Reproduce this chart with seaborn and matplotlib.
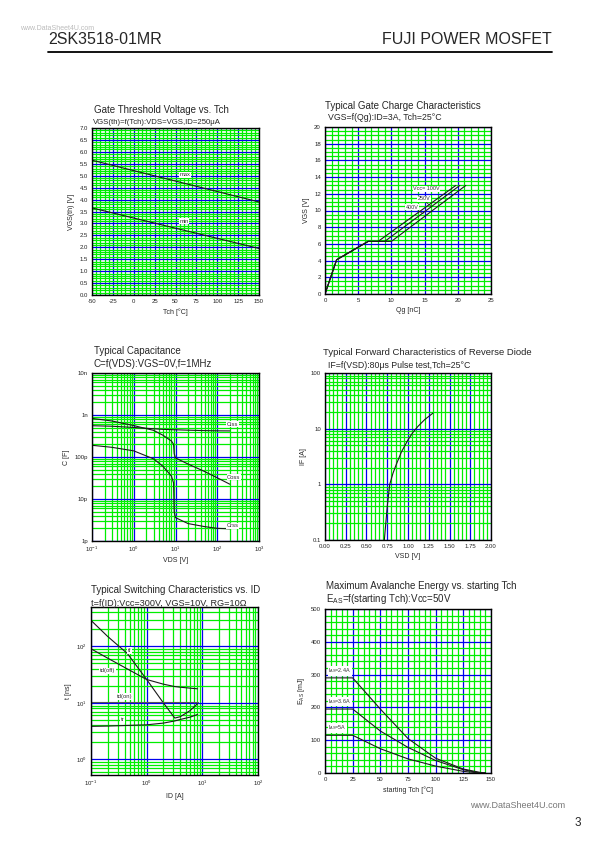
import numpy as np
import pandas as pd
import seaborn as sns
import matplotlib
matplotlib.use("Agg")
import matplotlib.pyplot as plt
from matplotlib.lines import Line2D
from matplotlib.ticker import MultipleLocator, LogLocator, FixedLocator, NullFormatter

# ---- data ----

# gate threshold voltage vs Tch
vth_tch = [-50, 150]
vth_max = [5.65, 3.9]
vth_min = [3.65, 1.95]

# gate charge (Vcc = 100V, 250V, 400V)
qg_100 = [0, 1.75, 6.5, 8.0, 19.7]
qg_250 = [0, 1.75, 6.5, 9.0, 20.3]
qg_400 = [0, 1.75, 6.5, 10.0, 21.2]
vgs_qg = [0, 4.1, 6.3, 6.3, 13.0]

# capacitance vs VDS (pF)
cap_vds = [0.1, 0.3, 1, 3, 5, 8, 9.0, 9.3, 10, 20, 50, 100, 200]
ciss = [555, 540, 505, 470, 455, 448, 446, 445, 445, 435, 425, 420, 418]
coss = [830, 720, 560, 430, 330, 240, 200, 120, 95, 68, 45, 32, 22.5]
crss = [190, 170, 140, 90, 60, 35, 24, 5.0, 3.6, 2.6, 2.2, 2.0, 1.95]

# reverse diode forward characteristic
vsd = [0.715, 0.75, 0.78, 0.82, 0.86, 0.92, 1.0, 1.06, 1.12, 1.2, 1.3]
i_f = [0.1, 0.4, 1.0, 1.6, 2.3, 3.8, 6.3, 8.6, 11.0, 14.5, 19.0]

# switching times vs ID (ns)
id_sw = [0.1, 0.2, 0.45, 1.0, 2.0, 3.2, 4.0, 6.0, 8.2]
t_f = [290, 150, 75, 26, 10, 5.4, 5.7, 7.3, 9.7]
td_off = [91, 62, 40, 26, 21.5, 19.5, 19, 18.3, 17.8]
td_on = [10.6, 10.6, 10.6, 10.6, 10.6, 10.6, 10.6, 10.6, 10.6]
t_r = [3.85, 3.9, 4.0, 4.1, 4.4, 4.8, 5.1, 5.6, 6.25]

# avalanche energy vs starting Tch (mJ)
eas_tch = [0, 25, 50, 75, 100, 125, 140, 145]
eas_24 = [290, 290, 195, 105, 45, 12, 2, 0]
eas_36 = [195, 195, 128, 78, 38, 10, 0, 0]
eas_5 = [115, 115, 74, 43, 21, 5, 0, 0]

# ---- style ----
sns.set_style("white")
plt.rcParams["font.family"] = ["Liberation Sans", "DejaVu Sans"]
plt.rcParams["mathtext.fontset"] = "custom"
plt.rcParams["mathtext.rm"] = "Liberation Sans"
plt.rcParams["mathtext.it"] = "Liberation Sans"
plt.rcParams["axes.unicode_minus"] = False

W, H = 595, 842
fig = plt.figure(figsize=(W / 100, H / 100), dpi=100)
fig.patch.set_facecolor("white")

GREEN = "#00ee00"
BLUE = "#0000ee"
LINE = "#1a1a1a"
TICK_FS = 4.3
LAB_FS = 5


def make_ax(left, right, top, bottom):
    ax = fig.add_axes([left / W, 1 - bottom / H, (right - left) / W, (bottom - top) / H])
    return ax


def style_ax(ax):
    ax.grid(which="minor", color=GREEN, lw=0.9)
    ax.grid(which="major", color=BLUE, lw=0.9)
    ax.set_axisbelow(True)
    for s in ax.spines.values():
        s.set_color("black")
        s.set_linewidth(1.0)
        s.set_zorder(5)
    ax.tick_params(which="both", length=0, labelsize=TICK_FS, pad=3, colors="#222")


def draw(ax, x, y, color=LINE):
    d = pd.DataFrame({"x": x, "y": y})
    sns.lineplot(data=d, x="x", y="y", ax=ax, sort=False, color=color, lw=0.8, legend=False)
    ax.set_xlabel("")
    ax.set_ylabel("")


def tag(ax, x, y, s, ha="center", fs=4.2):
    ax.text(x, y, s, fontsize=fs, ha=ha, va="center", color="#333", zorder=6,
            bbox=dict(facecolor="white", edgecolor="none", pad=0.4))


def ftext(x, y, s, fs=7, ha="left", **kw):
    fig.text(x / W, 1 - y / H, s, fontsize=fs, ha=ha, va="center", **kw)


def log_minor(ax, axis="both"):
    if axis in ("x", "both"):
        ax.xaxis.set_major_locator(LogLocator(base=10, numticks=20))
        ax.xaxis.set_minor_locator(LogLocator(base=10, subs=np.arange(2, 10), numticks=20))
        ax.xaxis.set_minor_formatter(NullFormatter())
    if axis in ("y", "both"):
        ax.yaxis.set_major_locator(LogLocator(base=10, numticks=20))
        ax.yaxis.set_minor_locator(LogLocator(base=10, subs=np.arange(2, 10), numticks=20))
        ax.yaxis.set_minor_formatter(NullFormatter())


def pow10(v, p):
    return f"$10^{{{int(round(np.log10(v)))}}}$"


# ---- header ----
ftext(20, 28, "www.DataSheet4U.com", fs=5, color="#bbbbbb")
ftext(48, 40, "2SK3518-01MR", fs=11.5)
ftext(552, 40, "FUJI POWER MOSFET", fs=11.5, ha="right")
fig.add_artist(Line2D([48 / W, 552 / W], [1 - 52 / H, 1 - 52 / H], color="black", lw=1.3))

# ---- 1: gate threshold voltage ----
ax1 = make_ax(92, 259, 128, 295)
draw(ax1, vth_tch, vth_max)
draw(ax1, vth_tch, vth_min)
ax1.set_xlim(-50, 150)
ax1.set_ylim(0, 7)
ax1.xaxis.set_major_locator(MultipleLocator(25))
ax1.xaxis.set_minor_locator(MultipleLocator(5))
ax1.yaxis.set_major_locator(MultipleLocator(0.5))
ax1.yaxis.set_minor_locator(MultipleLocator(0.1))
ax1.yaxis.set_major_formatter(lambda v, p: f"{v:.1f}")
style_ax(ax1)
ax1.set_xlabel("Tch [°C]", fontsize=LAB_FS, labelpad=3)
ax1.set_ylabel("VGS(th) [V]", fontsize=LAB_FS, labelpad=3)
tag(ax1, 61, 5.03, "max")
tag(ax1, 60, 3.1, "min")
ftext(94, 110, "Gate Threshold Voltage vs. Tch", fs=7)
ftext(93, 122, "VGS(th)=f(Tch):VDS=VGS,ID=250μA", fs=5.6)

# ---- 2: gate charge ----
ax2 = make_ax(325, 491, 127, 294)
draw(ax2, qg_100, vgs_qg)
draw(ax2, qg_250, vgs_qg)
draw(ax2, qg_400, vgs_qg)
ax2.set_xlim(0, 25)
ax2.set_ylim(0, 20)
ax2.xaxis.set_major_locator(MultipleLocator(5))
ax2.xaxis.set_minor_locator(MultipleLocator(1))
ax2.yaxis.set_major_locator(MultipleLocator(2))
ax2.yaxis.set_minor_locator(MultipleLocator(0.5))
style_ax(ax2)
ax2.set_xlabel("Qg [nC]", fontsize=LAB_FS, labelpad=3)
ax2.set_ylabel("VGS [V]", fontsize=LAB_FS, labelpad=3)
tag(ax2, 13.3, 12.6, "Vcc= 100V", ha="left", fs=3.9)
tag(ax2, 13.9, 11.4, "250V", ha="left", fs=3.9)
tag(ax2, 12.2, 10.4, "400V", ha="left", fs=3.9)
ax2.plot([15.2, 16.0], [11.0, 10.5], color=LINE, lw=0.5)
ax2.plot([14.0, 14.8], [10.0, 9.6], color=LINE, lw=0.5)
ftext(325, 106, "Typical Gate Charge Characteristics", fs=7)
ftext(328, 118, "VGS=f(Qg):ID=3A, Tch=25°C", fs=6.3)

# ---- 3: capacitance ----
ax3 = make_ax(92, 259, 373, 541)
ax3.set_xscale("log")
ax3.set_yscale("log")
draw(ax3, cap_vds, ciss)
draw(ax3, cap_vds, coss)
draw(ax3, cap_vds, crss)
ax3.set_xlim(0.1, 1000)
ax3.set_ylim(1, 10000)
log_minor(ax3)
ax3.xaxis.set_major_formatter(pow10)
ax3.yaxis.set_major_locator(FixedLocator([1, 10, 100, 1000, 10000]))
ax3.yaxis.set_major_formatter(lambda v, p: {1: "1p", 10: "10p", 100: "100p", 1000: "1n", 10000: "10n"}.get(int(round(v)), ""))
style_ax(ax3)
ax3.set_xlabel("VDS [V]", fontsize=LAB_FS, labelpad=2)
ax3.set_ylabel("C [F]", fontsize=LAB_FS, labelpad=3)
tag(ax3, 230, 610, "Ciss")
tag(ax3, 250, 33, "Coss")
tag(ax3, 230, 2.3, "Crss")
ftext(94, 351, "Typical Capacitance", fs=7)
ftext(94, 364, "C=f(VDS):VGS=0V,f=1MHz", fs=7)

# ---- 4: reverse diode ----
ax4 = make_ax(325, 491, 373, 540)
ax4.set_yscale("log")
draw(ax4, vsd, i_f)
ax4.set_xlim(0, 2)
ax4.set_ylim(0.1, 100)
ax4.xaxis.set_major_locator(MultipleLocator(0.25))
ax4.xaxis.set_minor_locator(MultipleLocator(0.05))
ax4.xaxis.set_major_formatter(lambda v, p: f"{v:.2f}")
log_minor(ax4, "y")
ax4.yaxis.set_major_formatter(lambda v, p: f"{v:g}")
style_ax(ax4)
ax4.set_xlabel("VSD [V]", fontsize=LAB_FS, labelpad=3)
ax4.set_ylabel("IF [A]", fontsize=LAB_FS, labelpad=3)
ftext(323, 353, "Typical Forward Characteristics of Reverse Diode", fs=6.8)
ftext(328, 365, "IF=f(VSD):80μs Pulse test,Tch=25°C", fs=6.3)

# ---- 5: switching ----
ax5 = make_ax(91, 258, 607, 775)
ax5.set_xscale("log")
ax5.set_yscale("log")
draw(ax5, id_sw, t_f)
draw(ax5, id_sw, td_off)
draw(ax5, id_sw, td_on, color="#555555")
draw(ax5, id_sw, t_r)
ax5.set_xlim(0.1, 100)
ax5.set_ylim(0.53, 500)
log_minor(ax5)
ax5.xaxis.set_major_formatter(pow10)
ax5.yaxis.set_major_formatter(pow10)
style_ax(ax5)
ax5.set_xlabel("ID [A]", fontsize=LAB_FS, labelpad=3)
ax5.set_ylabel("t [ns]", fontsize=LAB_FS, labelpad=3)
tag(ax5, 0.49, 85, "tf")
tag(ax5, 0.2, 37, "td(off)")
tag(ax5, 0.4, 13, "td(on)")
tag(ax5, 0.37, 5.1, "tr")
ftext(91, 590, "Typical Switching Characteristics vs. ID", fs=7)
ftext(91, 603, "t=f(ID):Vcc=300V, VGS=10V, RG=10Ω", fs=6.6)

# ---- 6: avalanche energy ----
ax6 = make_ax(325, 491, 609, 773)
draw(ax6, eas_tch, eas_24)
draw(ax6, eas_tch, eas_36)
draw(ax6, eas_tch, eas_5)
ax6.set_xlim(0, 150)
ax6.set_ylim(0, 500)
ax6.xaxis.set_major_locator(MultipleLocator(25))
ax6.xaxis.set_minor_locator(MultipleLocator(5))
ax6.yaxis.set_major_locator(MultipleLocator(100))
ax6.yaxis.set_minor_locator(MultipleLocator(20))
style_ax(ax6)
ax6.set_xlabel("starting Tch [°C]", fontsize=LAB_FS, labelpad=3)
ax6.set_ylabel("E$_{AS}$ [mJ]", fontsize=LAB_FS, labelpad=3)
tag(ax6, 3, 312, "I$_{AS}$=2.4A", ha="left", fs=3.9)
tag(ax6, 3, 218, "I$_{AS}$=3.6A", ha="left", fs=3.9)
tag(ax6, 3, 138, "I$_{AS}$=5A", ha="left", fs=3.9)
ftext(326, 586, "Maximum Avalanche Energy vs. starting Tch", fs=7)
ftext(326, 599, "E$_{AS}$=f(starting Tch):Vcc=50V", fs=7)

# ---- footer ----
ftext(565, 805, "www.DataSheet4U.com", fs=6.5, ha="right", color="#777777")
ftext(581, 823, "3", fs=8.5, ha="right")

fig.savefig("out.png", dpi=100, facecolor="white")
